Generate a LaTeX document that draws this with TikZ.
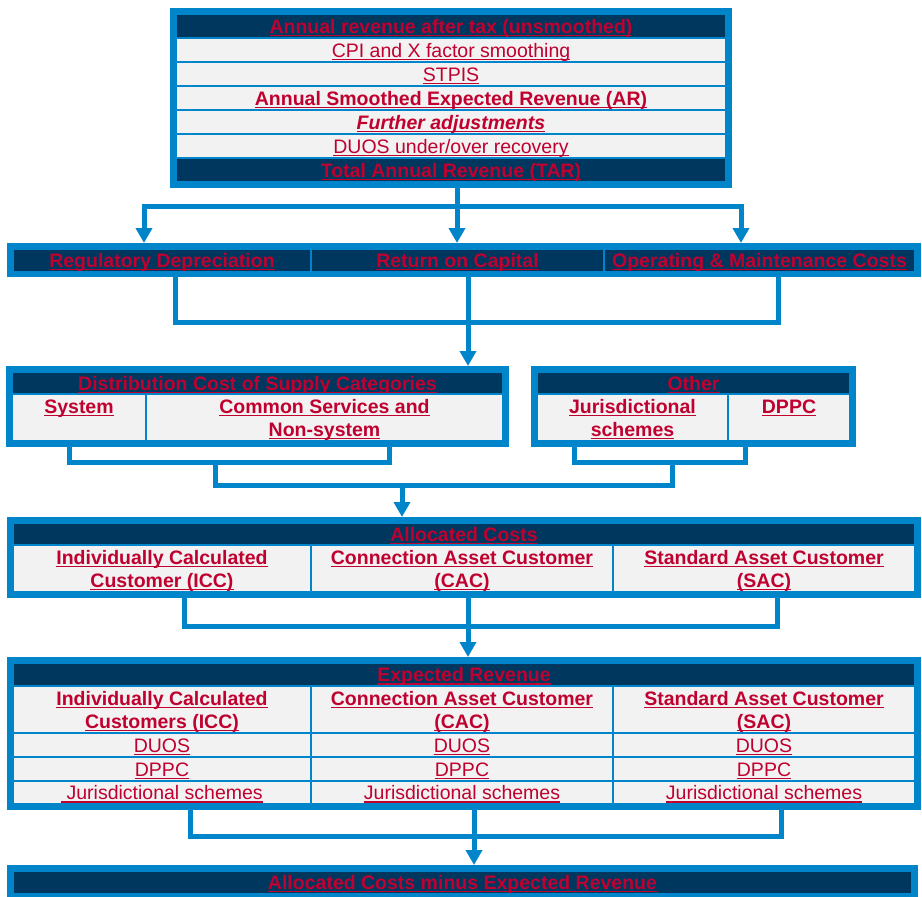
\documentclass[tikz,border=0pt]{standalone}
\usepackage{fontspec}
\setmainfont{Liberation Sans}
\usetikzlibrary{arrows.meta}
\definecolor{bblue}{HTML}{0085CA}
\definecolor{navy}{HTML}{00375F}
\definecolor{lgray}{HTML}{F2F2F2}
\definecolor{tred}{HTML}{C0002F}
\newsavebox\ulbox
\newcommand\ul[1]{\sbox\ulbox{#1}\rlap{\rule[-3.3pt]{\wd\ulbox}{1.8pt}}\usebox\ulbox}
\newcommand\fs{\fontsize{19.5}{23}\selectfont}
\newcommand\ms{\rule[-4.5pt]{0pt}{23pt}}
\newcommand\bu[1]{\ul{\bfseries #1}}
\newcommand\cellat[7]{\node[#2, minimum width={(#5)-(#3)}, minimum height={(#6)-(#4)}] (#1) at ({((#3)+(#5))/2},{((#4)+(#6))/2}) {#7};}
\newcommand\frameat[5]{\node[framebox, minimum width={(#4)-(#2)+6}, minimum height={(#5)-(#3)+6}] (#1) at ({((#2)+(#4))/2},{((#3)+(#5))/2}) {};}
\tikzset{
  cellg/.style={fill=lgray, draw=bblue, line width=2pt, inner sep=0pt, font=\fs, text=tred, align=center},
  celln/.style={cellg, fill=navy},
  framebox/.style={draw=bblue, line width=6pt, inner sep=0pt},
  conn/.style={draw=bblue, line width=5pt},
  arr/.style={-{Triangle[width=16pt,length=15pt]}}
}
\begin{document}
\begin{tikzpicture}[x=1pt,y=-1pt]
\fill[white] (0,0) rectangle (922,897);
\useasboundingbox (0,0) rectangle (922,897);
% box 1
\cellat{r1}{celln}{176}{14}{726}{38}{\bu{Annual revenue after tax (unsmoothed)}\ms}
\cellat{r2}{cellg}{176}{38}{726}{62}{\ul{CPI and X factor smoothing}\ms}
\cellat{r3}{cellg}{176}{62}{726}{86}{\ul{STPIS}\ms}
\cellat{r4}{cellg}{176}{86}{726}{110}{\bu{Annual Smoothed Expected Revenue (AR)}\ms}
\cellat{r5}{cellg}{176}{110}{726}{134}{\ul{\bfseries\itshape Further adjustments}\ms}
\cellat{r6}{cellg}{176}{134}{726}{158}{\ul{DUOS under/over recovery}\ms}
\cellat{r7}{celln}{176}{158}{726}{182}{\bu{Total Annual Revenue (TAR)}\ms}
\frameat{f1}{176}{14}{726}{182}
% box 2
\cellat{c21}{celln}{13}{249}{311}{271}{\bu{Regulatory Depreciation}\ms}
\cellat{c22}{celln}{311}{249}{604}{271}{\bu{Return on Capital}\ms}
\cellat{c23}{celln}{604}{249}{915}{271}{\bu{Operating \& Maintenance Costs}\ms}
\frameat{f2}{13}{249}{915}{271}
% box 3 left
\cellat{h3l}{celln}{12}{372}{503}{394}{\bu{Distribution Cost of Supply Categories}\ms}
\cellat{c31}{cellg}{12}{394}{146}{441}{\bu{System}\ms\\\ms}
\cellat{c32}{cellg}{146}{394}{503}{441}{\bu{Common Services and}\ms\\\bu{Non-system}\ms}
\frameat{f3l}{12}{372}{503}{441}
% box 3 right
\cellat{h3r}{celln}{537}{372}{850}{394}{\bu{Other}\ms}
\cellat{c33}{cellg}{537}{394}{728}{441}{\bu{Jurisdictional}\ms\\\bu{schemes}\ms}
\cellat{c34}{cellg}{728}{394}{850}{441}{\bu{DPPC}\ms\\\ms}
\frameat{f3r}{537}{372}{850}{441}
% box 4
\cellat{h4}{celln}{13}{523}{915}{545}{\bu{Allocated Costs}\ms}
\cellat{c41}{cellg}{13}{545}{311}{592}{\bu{Individually Calculated}\ms\\\bu{Customer (ICC)}\ms}
\cellat{c42}{cellg}{311}{545}{613}{592}{\bu{Connection Asset Customer}\ms\\\bu{(CAC)}\ms}
\cellat{c43}{cellg}{613}{545}{915}{592}{\bu{Standard Asset Customer}\ms\\\bu{(SAC)}\ms}
\frameat{f4}{13}{523}{915}{592}
% box 5
\cellat{h5}{celln}{13}{663}{915}{686}{\bu{Expected Revenue}\ms}
\cellat{c51}{cellg}{13}{686}{311}{733}{\bu{Individually Calculated}\ms\\\bu{Customers (ICC)}\ms}
\cellat{c52}{cellg}{311}{686}{613}{733}{\bu{Connection Asset Customer}\ms\\\bu{(CAC)}\ms}
\cellat{c53}{cellg}{613}{686}{915}{733}{\bu{Standard Asset Customer}\ms\\\bu{(SAC)}\ms}
\cellat{d51}{cellg}{13}{733}{311}{757}{\ul{DUOS}\ms}
\cellat{d52}{cellg}{311}{733}{613}{757}{\ul{DUOS}\ms}
\cellat{d53}{cellg}{613}{733}{915}{757}{\ul{DUOS}\ms}
\cellat{e51}{cellg}{13}{757}{311}{781}{\ul{DPPC}\ms}
\cellat{e52}{cellg}{311}{757}{613}{781}{\ul{DPPC}\ms}
\cellat{e53}{cellg}{613}{757}{915}{781}{\ul{DPPC}\ms}
\cellat{j51}{cellg}{13}{781}{311}{804}{\ul{\ Jurisdictional schemes}\ms}
\cellat{j52}{cellg}{311}{781}{613}{804}{\ul{Jurisdictional schemes}\ms}
\cellat{j53}{cellg}{613}{781}{915}{804}{\ul{Jurisdictional schemes}\ms}
\frameat{f5}{13}{663}{915}{804}
% box 6
\cellat{h6}{celln}{13}{871}{912}{893}{\bu{Allocated Costs minus Expected Revenue}\ms}
\frameat{f6}{13}{871}{912}{893}
% connectors 1
\coordinate (a1l) at (144,206);
\coordinate (a1m) at (457,206);
\coordinate (a1r) at (741,206);
\draw[conn,arr] (a1r) -- (a1l) -- (a1l |- f2.north);
\draw[conn,arr] (a1l) -- (a1r) -- (a1r |- f2.north);
\draw[conn,arr] (f1.south -| a1m) -- (a1m |- f2.north);
% connectors 2
\coordinate (a2l) at (175,322);
\coordinate (a2m) at (468,322);
\coordinate (a2r) at (778,322);
\draw[conn] (f2.south -| a2l) -- (a2l) -- (a2r) -- (f2.south -| a2r);
\draw[conn,arr] (f2.south -| a2m) -- (a2m |- f3l.north);
% connectors 3
\coordinate (b3l1) at (69,462);
\coordinate (b3l2) at (389,462);
\coordinate (b3r1) at (574,462);
\coordinate (b3r2) at (745,462);
\coordinate (a3l) at (215,485);
\coordinate (a3m) at (402,485);
\coordinate (a3r) at (672,485);
\draw[conn] (f3l.south -| b3l1) -- (b3l1) -- (b3l2) -- (f3l.south -| b3l2);
\draw[conn] (f3r.south -| b3r1) -- (b3r1) -- (b3r2) -- (f3r.south -| b3r2);
\draw[conn] (a3l |- b3l1) -- (a3l) -- (a3r) -- (a3r |- b3r1);
\draw[conn,arr] (a3m) -- (a3m |- f4.north);
% connectors 4
\coordinate (a4l) at (184,626);
\coordinate (a4m) at (468,626);
\coordinate (a4r) at (777,626);
\draw[conn] (f4.south -| a4l) -- (a4l) -- (a4r) -- (f4.south -| a4r);
\draw[conn,arr] (f4.south -| a4m) -- (a4m |- f5.north);
% connectors 5
\coordinate (a5l) at (190,836);
\coordinate (a5m) at (474,836);
\coordinate (a5r) at (781,836);
\draw[conn] (f5.south -| a5l) -- (a5l) -- (a5r) -- (f5.south -| a5r);
\draw[conn,arr] (f5.south -| a5m) -- (a5m |- f6.north);
\end{tikzpicture}
\end{document}
